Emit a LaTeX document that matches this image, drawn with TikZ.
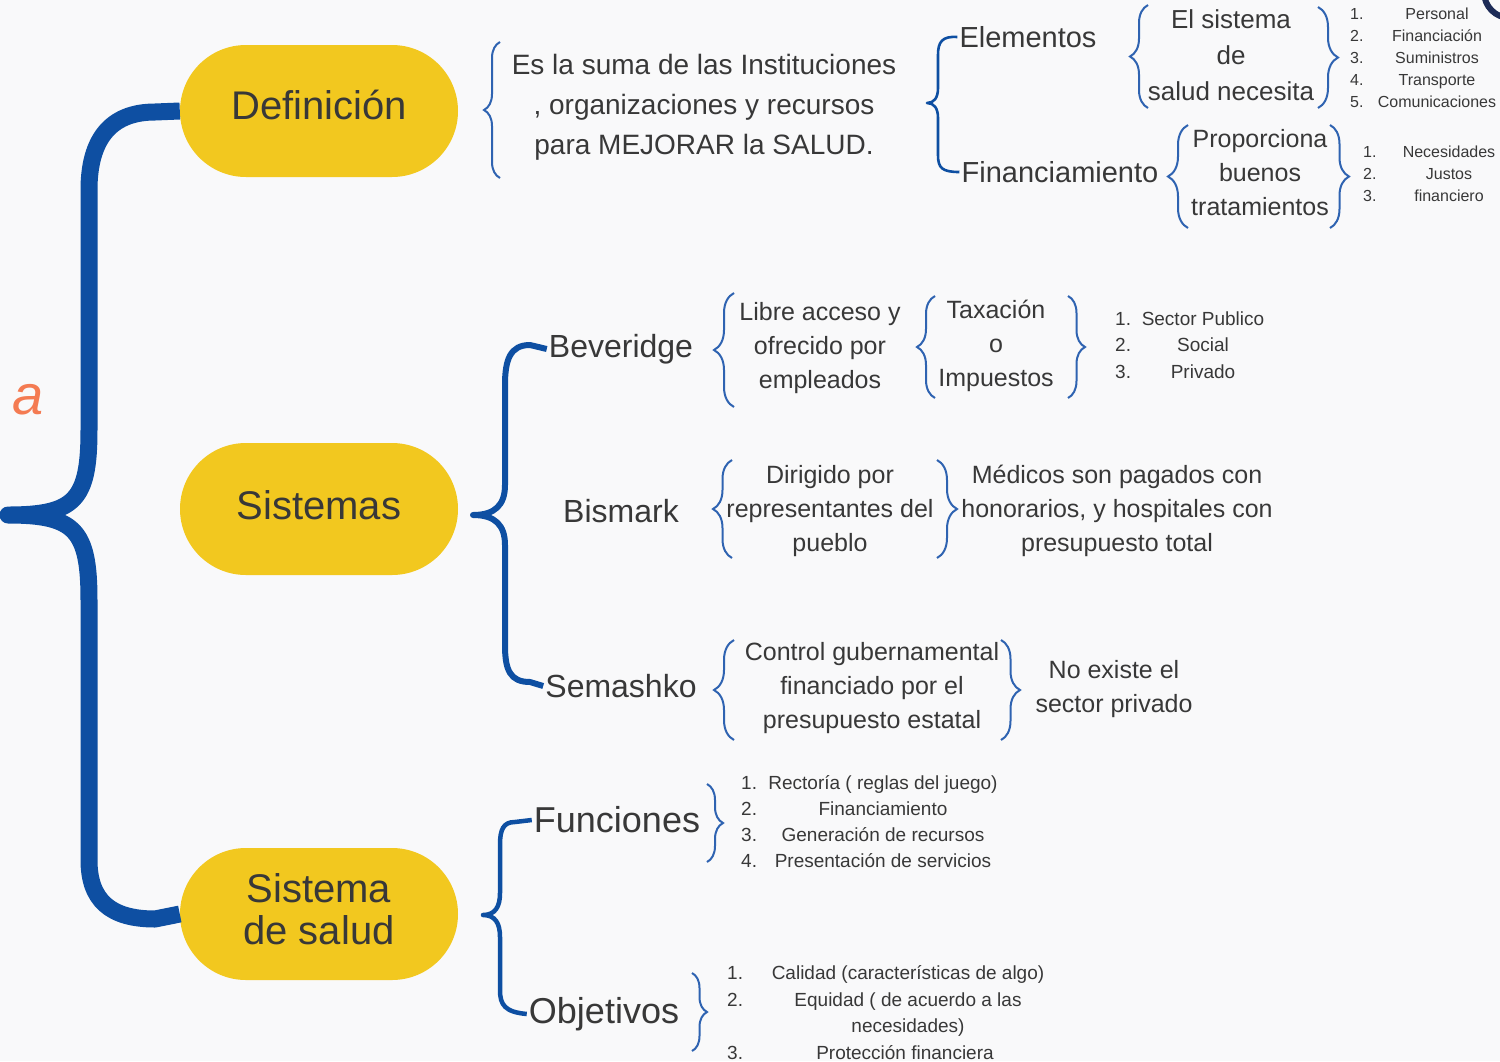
\documentclass[tikz,border=0pt]{standalone}
\usepackage{fontspec}
\setmainfont{Liberation Sans}
\usetikzlibrary{shapes.misc,decorations.pathreplacing}
\definecolor{bg}{HTML}{F9F9FA}
\definecolor{yel}{HTML}{F2C81F}
\definecolor{bblue}{HTML}{0E4FA2}
\definecolor{tblue}{HTML}{2F63B1}
\definecolor{txt}{HTML}{383838}
\definecolor{orng}{HTML}{F47B52}
\definecolor{navy}{HTML}{1D2B57}
\newcommand\myfs[2]{\fontsize{#1}{#2}\selectfont}
\tikzset{
  pill/.style={rounded rectangle, fill=yel, minimum width=278pt, minimum height=132pt, inner sep=0pt},
  pilltxt/.style={text=txt, inner sep=0pt, align=center, font=\myfs{40}{42}},
  lbl/.style={text=txt, inner sep=2pt, align=center},
  bigtxt/.style={lbl, font=\myfs{32}{36}},
  med/.style={lbl, font=\myfs{25}{34}},
  sml/.style={text=txt, inner sep=0pt, font=\myfs{19}{22}},
  tny/.style={text=txt, inner sep=0pt, font=\myfs{16}{20}},
  tbr/.style={draw=tblue, line width=2pt, decorate, decoration={brace, amplitude=#1}},
  tbr/.default=16pt,
  thick brace/.style={draw=bblue, line width=#1, line cap=butt, line join=round},
}
\begin{document}
\begin{tikzpicture}[x=1pt,y=-1pt]
\useasboundingbox (0,0) rectangle (1500,1061);
\clip (0,0) rectangle (1500,1061);
\fill[bg] (0,0) rectangle (1500,1061);

% decorations at the borders
\node[text=orng, font=\myfs{56}{56}\itshape, anchor=base east, inner sep=0pt] (ttl) at (44,414) {a};
\draw[navy, line width=6pt] (1510,-8) circle (26);

% pills
\node[pill] (def) at (319,111) {};
\node[pill] (sis) at (319,509) {};
\node[pill] (sal) at (319,914) {};
\node[pilltxt] (deft) at (319,105) {Definición};
\node[pilltxt] (sist) at (319,505) {Sistemas};
\node[pilltxt] (salt) at (319,909) {Sistema\\de salud};

% big brace
\draw[thick brace=17pt] (def.west) -- (155,112) .. controls (110,112) and (89,140) .. (89,190) -- (89,430)
  .. controls (89,500) and (75,515) .. (8,515) .. controls (75,515) and (89,530) .. (89,600) -- (89,860)
  .. controls (89,900) and (110,919) .. (155,919) -- (sal.west);

% definition
\node[lbl, font=\myfs{28}{40}] (dtx) at (704,107) {Es la suma de las Instituciones\\, organizaciones y recursos\\para MEJORAR la SALUD.};
\draw[tbr=16pt] (500,178) -- (500,42);

\node[lbl, font=\myfs{29}{34}] (ele) at (1028,37) {Elementos};
\node[lbl, font=\myfs{29}{34}] (fin) at (1060,172) {Financiamiento};
\draw[thick brace=2.6pt] (ele.west) .. controls (942,36) and (938,42) .. (938,55) -- (938,88)
  .. controls (938,98) and (934,103) .. (927,103) .. controls (934,103) and (938,108) .. (938,118) -- (938,155)
  .. controls (938,168) and (942,172) .. (fin.west);

\node[lbl, font=\myfs{26}{36}] (esd) at (1231,55) {El sistema\\de\\salud necesita};
\draw[tbr=18pt] (1148,108) -- (1148,5);
\draw[tbr=20pt] (1318,7) -- (1318,108);
\node[lbl, font=\myfs{25}{34}] (pbt) at (1260,173) {Proporciona\\buenos\\tratamientos};
\draw[tbr=20pt] (1188,228) -- (1188,125);
\draw[tbr=19pt] (1330,125) -- (1330,228);

\foreach \t [count=\i] in {Personal,Financiación,Suministros,Transporte,Comunicaciones}{
  \node[tny, anchor=base west] (en\i) at (1350,{-3+22*\i}) {\i.};
  \node[tny, anchor=base] (et\i) at (1437,{-3+22*\i}) {\t};
}
\foreach \t [count=\i] in {Necesidades,Justos,financiero}{
  \node[tny, anchor=base west] (fn\i) at (1363,{135+22*\i}) {\i.};
  \node[tny, anchor=base] (ft\i) at (1449,{135+22*\i}) {\t};
}

% sistemas
\node[bigtxt] (bev) at (621,349) {Beveridge};
\node[bigtxt] (bis) at (621,511) {Bismark};
\node[bigtxt] (sem) at (621,686) {Semashko};
\draw[thick brace=6pt] (bev.west) -- (530,345) .. controls (510,345) and (505,360) .. (505,385) -- (505,485)
  .. controls (505,505) and (495,515) .. (473,515) .. controls (495,515) and (505,525) .. (505,545) -- (505,645)
  .. controls (505,670) and (510,682) .. (530,682) -- (sem.west);

\node[med] (lib) at (820,348) {Libre acceso y\\ofrecido por\\empleados};
\draw[tbr=20pt] (734,407) -- (734,293);
\node[med] (tax) at (996,346) {Taxación\\o\\Impuestos};
\draw[tbr=18pt] (935,398) -- (935,296);
\draw[tbr=17pt] (1068,296) -- (1068,398);
\foreach \t [count=\i] in {Sector Publico,Social,Privado}{
  \node[sml, anchor=base west] (bn\i) at (1115,{298.5+26.5*\i}) {\i.};
  \node[sml, anchor=base] (bt\i) at (1203,{298.5+26.5*\i}) {\t};
}

\node[med] (dir) at (830,511) {Dirigido por\\representantes del\\pueblo};
\draw[tbr=19pt] (732,558) -- (732,460);
\draw[tbr=20pt] (937,460) -- (937,558);
\node[med] (mdc) at (1117,511) {Médicos son pagados con\\honorarios, y hospitales con\\presupuesto total};

\node[med] (ctl) at (872,688) {Control gubernamental\\financiado por el\\presupuesto estatal};
\draw[tbr=20pt] (734,740) -- (734,640);
\draw[tbr=19pt] (1001,640) -- (1001,740);
\node[med] (nex) at (1114,689) {No existe el\\sector privado};

% sistema de salud
\node[lbl, font=\myfs{36}{40}] (fun) at (617,820) {Funciones};
\node[lbl, font=\myfs{36}{40}] (obj) at (604,1014) {Objetivos};
\draw[thick brace=4.5pt] (fun.west) -- (515,822) .. controls (503,822) and (500,830) .. (500,845) -- (500,893)
  .. controls (500,907) and (495,915) .. (483,915) .. controls (495,915) and (500,923) .. (500,937) -- (500,990)
  .. controls (500,1005) and (505,1012) .. (obj.west);

\draw[tbr=16pt] (707,784) -- (707,862);
\foreach \t [count=\i] in {Rectoría ( reglas del juego),Financiamiento,Generación de recursos,Presentación de servicios}{
  \node[sml, anchor=base west] (gn\i) at (741,{762.7+26.3*\i}) {\i.};
  \node[sml, anchor=base] (gt\i) at (883,{762.7+26.3*\i}) {\t};
}
\draw[tbr=15pt] (692,973) -- (692,1051);
\node[sml, anchor=base west] (on1) at (727,979) {1.};
\node[sml, anchor=base west] (on2) at (727,1006) {2.};
\node[sml, anchor=base west] (on3) at (727,1059) {3.};
\node[sml, anchor=base] (ot1) at (908,979) {Calidad (características de algo)};
\node[sml, anchor=base] (ot2) at (908,1006) {Equidad ( de acuerdo a las};
\node[sml, anchor=base] (ot3) at (908,1032) {necesidades)};
\node[sml, anchor=base] (ot4) at (905,1059) {Protección financiera};
\end{tikzpicture}
\end{document}
